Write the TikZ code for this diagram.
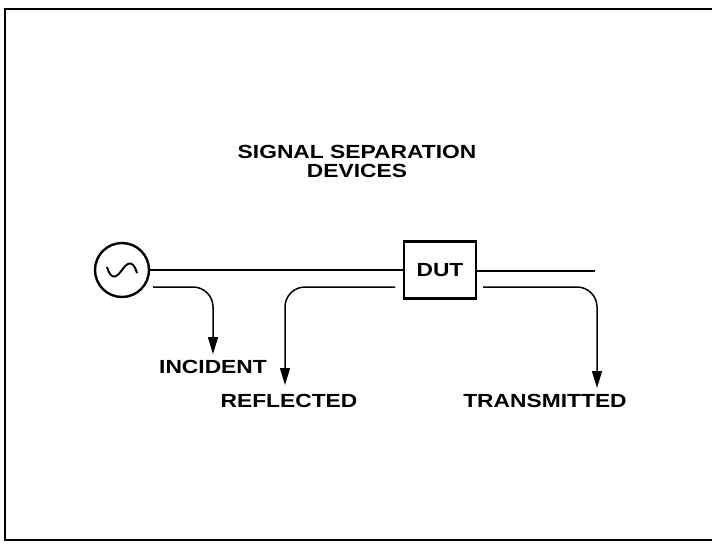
\documentclass[tikz,border=0pt]{standalone}
\usepackage{fontspec}
\setmainfont{Liberation Sans}
\newfontfamily\lblfont{Liberation Sans}[FakeStretch=1.2]
\usetikzlibrary{arrows.meta}
\begin{document}
\begin{tikzpicture}[x=1pt,y=-1pt,
  lbl/.style={font=\lblfont\bfseries\fontsize{19}{19}\selectfont, inner sep=0pt, align=center},
  wire/.style={line width=1.5pt},
  tap/.style={line width=1.5pt, rounded corners=20pt, -{Triangle[length=17pt,width=10pt]}},
  frameline/.style={line width=2.6pt}]
\useasboundingbox (0,0) rectangle (712,544);
% frame
\coordinate (ftl) at (5,9);
\coordinate (ftr) at (712,9);
\coordinate (fbl) at (5,540);
\coordinate (fbr) at (712,540);
\draw[frameline] (ftr) -- (ftl) -- (fbl) -- (fbr);
% title
\node[lbl] (title) at (357,161) {SIGNAL SEPARATION\\DEVICES};
% source
\node[draw, circle, line width=2.4pt, minimum size=54pt, inner sep=0pt] (src) at (122,270) {};
\draw[line width=1.9pt] ([xshift=-15pt,yshift=3pt]src.center) .. controls ([xshift=-10pt,yshift=-14pt]src.center) and ([xshift=-3pt,yshift=-4pt]src.center) .. (src.center)
  .. controls ([xshift=3pt,yshift=4pt]src.center) and ([xshift=10pt,yshift=14pt]src.center) .. ([xshift=15pt,yshift=-3pt]src.center);
% DUT
\node[draw, line width=2.6pt, minimum width=72pt, minimum height=57pt, inner sep=0pt, lbl] (dut) at (440,270) {DUT};
% main line
\coordinate (rend) at (595,271);
\draw[wire] (src.east) -- (dut.west |- src.east);
\draw[wire] (dut.east |- rend) -- (rend);
% labels
\node[lbl] (inc) at (213,367) {INCIDENT};
\node[lbl] (refl) at (289,401) {REFLECTED};
\node[lbl] (trans) at (545,401) {TRANSMITTED};
% taps
\coordinate (inc0) at (153,287);
\coordinate (incc) at (213,287);
\coordinate (inct) at (213,354);
\draw[tap] (inc0) -- (incc) -- (inct);
\coordinate (ref0) at (395,287);
\coordinate (refc) at (285,287);
\coordinate (reft) at (285,385);
\draw[tap] (ref0) -- (refc) -- (reft);
\coordinate (tr0) at (483,287);
\coordinate (trc) at (597,287);
\coordinate (trt) at (597,388);
\draw[tap] (tr0) -- (trc) -- (trt);
\end{tikzpicture}
\end{document}
